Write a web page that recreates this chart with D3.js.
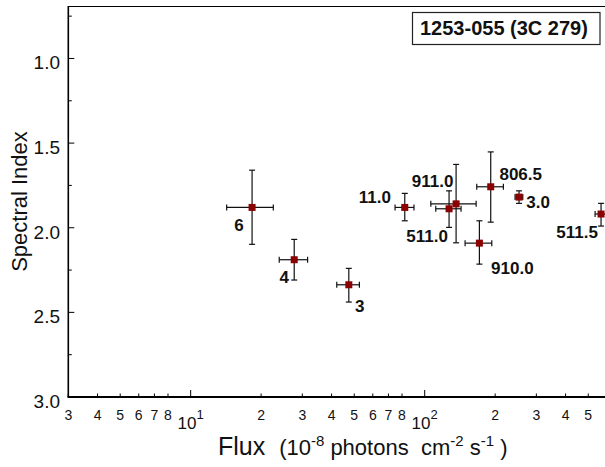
<html>
<head>
<script src="https://d3js.org/d3.v7.min.js"></script>
<style>
  body { margin: 0; background: #fff; }
  text { font-family: "Liberation Sans", Arial, sans-serif; }
</style>
</head>
<body>
<svg id="chart" width="605" height="467"></svg>
<script>
// viewing periods and their flux / spectral index values
const periods  = ["6", "4", "3", "11.0", "911.0", "511.0", "806.5", "3.0", "910.0", "511.5"];
const flux     = [18.3, 27.7, 47.4, 82.2, 136.2, 127.1, 191.5, 253, 171.3, 567];
const fluxLo   = [14.25, 23.9, 42.1, 74.7, 106.2, 111.5, 166.9, 243.3, 148.8, 534.6];
const fluxHi   = [22.55, 31.6, 52.6, 90.0, 165.9, 143, 216.9, 262.5, 193.5, 600];
const index    = [1.880, 2.189, 2.337, 1.880, 1.859, 1.888, 1.758, 1.819, 2.091, 1.919];
const indexLo  = [1.66, 2.069, 2.240, 1.797, 1.626, 1.782, 1.552, 1.782, 1.959, 1.856];
const indexHi  = [2.098, 2.309, 2.439, 1.959, 2.089, 1.998, 1.967, 1.856, 2.215, 1.99];
// label placement next to each point (px)
const labelDx  = [-13, -10, 11, -30, -23.5, -22, 30, 19, 33, -24];
const labelDy  = [24, 23, 27, -4, -17, 33, -7, 11, 31, 23.5];

const yTicks = [1.0, 1.5, 2.0, 2.5, 3.0];
const yMinor = [0.75, 1.25, 1.75, 2.25, 2.75];
const xTicks = [3, 4, 5, 6, 7, 8, 10, 20, 30, 40, 50, 60, 70, 80, 100, 200, 300, 400, 500];

const svg = d3.select("#chart");
const x = d3.scaleLog().domain([3, 600]).range([68.3, 606.8]);
const y = d3.scaleLinear().domain([0.69, 3.0]).range([6, 397]);

const pts = flux.map((f, i) => ({f, lo: fluxLo[i], hi: fluxHi[i], v: index[i], vlo: indexLo[i], vhi: indexHi[i], name: periods[i], dx: labelDx[i], dy: labelDy[i]}));

// frame
svg.append("line").attr("x1", x(3)).attr("x2", 605).attr("y1", y(0.69) + 0.5).attr("y2", y(0.69) + 0.5)
  .attr("stroke", "#000").attr("stroke-width", 1);
svg.append("line").attr("x1", x(3)).attr("x2", x(3)).attr("y1", y(0.69)).attr("y2", y(3.0))
  .attr("stroke", "#000").attr("stroke-width", 1.6);
svg.append("line").attr("x1", x(3) - 0.8).attr("x2", 605).attr("y1", y(3.0)).attr("y2", y(3.0))
  .attr("stroke", "#000").attr("stroke-width", 2.2);

// y ticks
svg.selectAll("line.ymaj").data(yTicks).join("line").attr("class", "ymaj")
  .attr("x1", x(3)).attr("x2", x(3) + 6).attr("y1", d => y(d)).attr("y2", d => y(d))
  .attr("stroke", "#000").attr("stroke-width", 1);
svg.selectAll("line.ymin").data(yMinor).join("line").attr("class", "ymin")
  .attr("x1", x(3)).attr("x2", x(3) + 3.5).attr("y1", d => y(d)).attr("y2", d => y(d))
  .attr("stroke", "#000").attr("stroke-width", 1);
svg.selectAll("text.ylab").data(yTicks).join("text").attr("class", "ylab")
  .attr("x", 60).attr("y", d => y(d) + 11).attr("text-anchor", "end")
  .attr("font-size", 19).attr("fill", "#111").text(d => d.toFixed(1));

// x ticks
const isDecade = d => Math.abs(Math.log10(d) - Math.round(Math.log10(d))) < 1e-9;
svg.selectAll("line.xt").data(xTicks).join("line").attr("class", "xt")
  .attr("x1", d => x(d)).attr("x2", d => x(d))
  .attr("y1", y(3.0)).attr("y2", d => y(3.0) - (isDecade(d) ? 7 : 3.5))
  .attr("stroke", "#000").attr("stroke-width", 1);

xTicks.forEach(d => {
  if (isDecade(d)) {
    const t = svg.append("text").attr("x", x(d)).attr("y", 429).attr("text-anchor", "middle").attr("fill", "#111");
    t.append("tspan").attr("font-size", 17).text("10");
    t.append("tspan").attr("font-size", 13).attr("dy", -10).text(Math.round(Math.log10(d)));
  } else {
    const m = d / Math.pow(10, Math.floor(Math.log10(d)));
    svg.append("text").attr("x", x(d)).attr("y", 420).attr("text-anchor", "middle")
      .attr("font-size", 14).attr("fill", "#111").text(Math.round(m));
  }
});

// axis titles
svg.append("text").attr("transform", "translate(27,201.5) rotate(-90)").attr("text-anchor", "middle")
  .attr("font-size", 22).attr("fill", "#111").text("Spectral Index");

const xt = svg.append("text").attr("x", 218).attr("y", 455).attr("fill", "#111").style("white-space", "pre");
xt.append("tspan").attr("font-size", 25).text("Flux  ");
xt.append("tspan").attr("font-size", 22).text("(10");
xt.append("tspan").attr("font-size", 15).attr("dy", -9).text("-8");
xt.append("tspan").attr("font-size", 22).attr("dy", 9).text(" photons  cm");
xt.append("tspan").attr("font-size", 15).attr("dy", -9).text("-2");
xt.append("tspan").attr("font-size", 22).attr("dy", 9).text(" s");
xt.append("tspan").attr("font-size", 15).attr("dy", -9).text("-1");
xt.append("tspan").attr("font-size", 22).attr("dy", 9).text(" )");

// source label box
svg.append("rect").attr("x", 412.5).attr("y", 12.5).attr("width", 187.5).attr("height", 32)
  .attr("fill", "#fff").attr("stroke", "#222").attr("stroke-width", 1.2);
svg.append("text").attr("x", 420).attr("y", 35).attr("font-size", 20).attr("font-weight", "bold")
  .attr("fill", "#111").text("1253-055 (3C 279)");

// error bars
const g = svg.append("g").attr("stroke", "#111").attr("stroke-width", 1.2);
pts.forEach(p => {
  const cx = x(p.f), cy = y(p.v);
  g.append("line").attr("x1", x(p.lo)).attr("x2", x(p.hi)).attr("y1", cy).attr("y2", cy);
  g.append("line").attr("x1", x(p.lo)).attr("x2", x(p.lo)).attr("y1", cy - 3).attr("y2", cy + 3);
  g.append("line").attr("x1", x(p.hi)).attr("x2", x(p.hi)).attr("y1", cy - 3).attr("y2", cy + 3);
  g.append("line").attr("x1", cx).attr("x2", cx).attr("y1", y(p.vlo)).attr("y2", y(p.vhi));
  g.append("line").attr("x1", cx - 3).attr("x2", cx + 3).attr("y1", y(p.vlo)).attr("y2", y(p.vlo));
  g.append("line").attr("x1", cx - 3).attr("x2", cx + 3).attr("y1", y(p.vhi)).attr("y2", y(p.vhi));
});

// markers
svg.selectAll("rect.pt").data(pts).join("rect").attr("class", "pt")
  .attr("x", d => x(d.f) - 3.5).attr("y", d => y(d.v) - 3.5).attr("width", 7).attr("height", 7)
  .attr("fill", "#8b0000");

// period labels
svg.selectAll("text.pl").data(pts).join("text").attr("class", "pl")
  .attr("x", d => x(d.f) + d.dx).attr("y", d => y(d.v) + d.dy).attr("text-anchor", "middle")
  .attr("font-size", 17).attr("font-weight", "bold").attr("fill", "#111").text(d => d.name);
</script>
</body>
</html>
